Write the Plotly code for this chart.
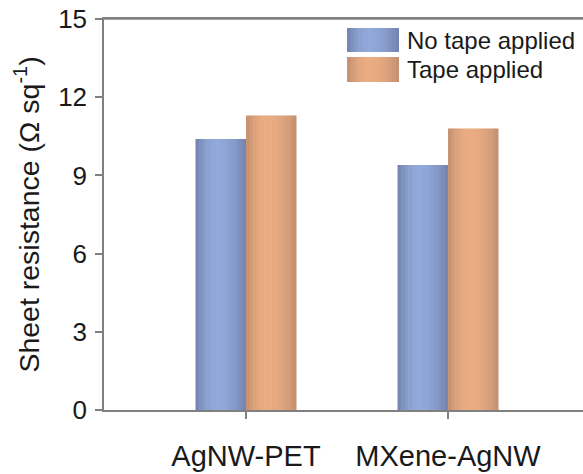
import plotly.graph_objects as go

categories = ["AgNW-PET", "MXene-AgNW"]
no_tape = [10.4, 9.4]
tape = [11.3, 10.8]
series_names = ["No tape applied", "Tape applied"]
y_ticks = [0, 3, 6, 9, 12, 15]

FONT = "Liberation Sans, Arial, sans-serif"
W, H = 583, 474
ML, MR, MT, MB = 104, 0, 19, 64
pw = W - ML - MR
ph = H - MT - MB
AXC = "#808080"

blue_dark, blue_light = (112, 128, 170), (145, 168, 218)
orange_dark, orange_light = (192, 142, 112), (234, 172, 130)

N = 14
BW = 0.25


def mix(c1, c2, f):
    return "rgb(%d,%d,%d)" % tuple(round(a + (b - a) * f) for a, b in zip(c1, c2))


def profile(t):
    peak = 0.42
    if t < peak:
        d = (peak - t) / peak
    else:
        d = (t - peak) / (1 - peak)
    return max(0.0, 1 - d ** 2)


fig = go.Figure()
for vals, base, dark, light in [
    (no_tape, -BW, blue_dark, blue_light),
    (tape, 0.0, orange_dark, orange_light),
]:
    for i in range(N):
        t = (i + 0.5) / N
        sw = BW / N
        fig.add_trace(go.Bar(
            x=categories, y=vals,
            offset=base + i * sw, width=sw * (1.15 if i < N - 1 else 1.0),
            marker=dict(color=mix(dark, light, profile(t)), line=dict(width=0)),
            showlegend=False, hoverinfo="skip",
        ))


def px2paper(x, y):
    return (x - ML) / pw, (H - MB - y) / ph


shapes = [dict(type="line", xref="paper", yref="paper", x0=0, x1=1, y0=1, y1=1,
               line=dict(color=AXC, width=1.5), layer="above")]
annotations = []
leg = [(series_names[0], 28, 52, blue_dark, blue_light),
       (series_names[1], 57, 82, orange_dark, orange_light)]
for name, y0, y1, dark, light in leg:
    x0, x1 = 347, 399
    for i in range(N):
        t = (i + 0.5) / N
        a = x0 + (x1 - x0) * i / N
        b = x0 + (x1 - x0) * (i + 1.15) / N if i < N - 1 else x1
        pa, py0 = px2paper(a, y1)
        pb, py1 = px2paper(b, y0)
        shapes.append(dict(type="rect", xref="paper", yref="paper",
                           x0=pa, x1=pb, y0=py0, y1=py1,
                           fillcolor=mix(dark, light, profile(t)),
                           line=dict(width=0), layer="above"))
    tx, ty = px2paper(405, (y0 + y1) / 2)
    annotations.append(dict(xref="paper", yref="paper", x=tx, y=ty,
                            xanchor="left", yanchor="middle", showarrow=False,
                            text=name, font=dict(family=FONT, size=24, color="#1a1a1a")))

# category centres at px 246 and 448
cat0, step = 246, 202
x_range = [(ML - cat0) / step, (W - MR - cat0) / step]

fig.update_layout(
    width=W, height=H,
    margin=dict(l=ML, r=MR, t=MT, b=MB),
    paper_bgcolor="white", plot_bgcolor="white",
    barmode="overlay",
    showlegend=False,
    shapes=shapes,
    annotations=annotations,
    xaxis=dict(
        range=x_range,
        showgrid=False, zeroline=False,
        showline=True, linecolor=AXC, linewidth=1.5, mirror=True,
        ticks="outside", ticklen=7, tickcolor=AXC, tickwidth=1.5,
        tickfont=dict(family=FONT, size=29, color="#1a1a1a"),
        ticklabelstandoff=12,
    ),
    yaxis=dict(
        range=[0, 15], tickvals=y_ticks,
        showgrid=False, zeroline=False,
        showline=True, linecolor=AXC, linewidth=1.5,
        ticks="outside", ticklen=7, tickcolor=AXC, tickwidth=1.5,
        tickfont=dict(family=FONT, size=26, color="#1a1a1a"),
        ticklabelstandoff=3, ticklabeloverflow="allow",
        title=dict(text="Sheet resistance (Ω sq<sup>-1</sup>)",
                   font=dict(family=FONT, size=28.5, color="#1a1a1a"),
                   standoff=10),
    ),
)

fig.write_html("out.html", config={"displayModeBar": False},
               post_script="document.body.style.margin='0';")
